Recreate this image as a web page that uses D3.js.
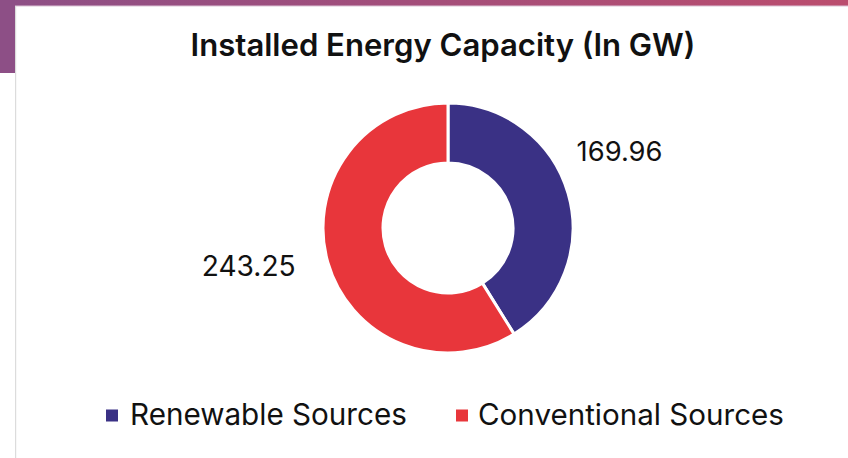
<!DOCTYPE html>
<html>
<head>
<meta charset="utf-8">
<script src="https://cdn.jsdelivr.net/npm/d3@7"></script>
<style>
  html, body { margin: 0; padding: 0; background: #fff; }
  svg { display: block; }
</style>
</head>
<body>
<svg id="chart" width="848" height="458"></svg>
<script>
// Installed capacity by source, in GW
const categories = ["Renewable Sources", "Conventional Sources"];
const capacityGW = [169.96, 243.25];
const sliceColors = ["#3a3185", "#e8363b"];
const chartTitle = "Installed Energy Capacity (In GW)";

const W = 848, H = 458;
const svg = d3.select("#chart");
const FONT = "Inter, 'Noto Sans', sans-serif";

// Page frame: gradient strip on top, purple tab on the left, card outline
const defs = svg.append("defs");
const grad = defs.append("linearGradient").attr("id", "topbar")
  .attr("x1", "0%").attr("x2", "100%");
grad.append("stop").attr("offset", "0%").attr("stop-color", "#8d4f86");
grad.append("stop").attr("offset", "100%").attr("stop-color", "#bb4d6e");

svg.append("rect").attr("x", 0).attr("y", 0).attr("width", W).attr("height", 6)
  .attr("fill", "url(#topbar)");
svg.append("rect").attr("x", 0).attr("y", 0).attr("width", 15).attr("height", 73)
  .attr("fill", "#8d4f86");
svg.append("rect").attr("x", 15).attr("y", 5.5).attr("width", W - 15).attr("height", 1)
  .attr("fill", "#dcc3d6");
svg.append("rect").attr("x", 15).attr("y", 6).attr("width", 1.2).attr("height", H - 6)
  .attr("fill", "#dcdcdc");

// Size a text element so that it spans the given width
function fitWidth(sel, target) {
  const node = sel.node();
  const fs = parseFloat(sel.attr("font-size"));
  const w = node.getComputedTextLength();
  sel.attr("font-size", fs * target / w);
}

// Title
const title = svg.append("text")
  .attr("x", 443).attr("y", 56)
  .attr("text-anchor", "middle")
  .attr("font-family", FONT).attr("font-weight", 600)
  .attr("font-size", 26).attr("fill", "#111")
  .text(chartTitle);
fitWidth(title, 505);

// Donut
const cx = 448, cy = 228, outerR = 125, innerR = 65;
const g = svg.append("g").attr("transform", `translate(${cx},${cy})`);

const color = d3.scaleOrdinal().domain(categories).range(sliceColors);
const pie = d3.pie().sort(null).value(d => d.value);
const arc = d3.arc().innerRadius(innerR).outerRadius(outerR);
const data = categories.map((c, i) => ({ name: c, value: capacityGW[i] }));
const arcs = pie(data);

g.selectAll("path.slice").data(arcs).join("path")
  .attr("class", "slice")
  .attr("d", arc)
  .attr("fill", d => color(d.data.name))
  .attr("stroke", "#fff")
  .attr("stroke-width", 3)
  .attr("stroke-linejoin", "miter");

// Value labels beside each slice
const labelLayout = [
  { angle: 59 * Math.PI / 180, r: 150, anchor: "start", dy: 10, width: 86 },
  { angle: 256 * Math.PI / 180, r: 157, anchor: "end", dy: 10, width: 94 }
];
g.selectAll("text.value").data(arcs).join("text")
  .attr("class", "value")
  .attr("x", (d, i) => labelLayout[i].r * Math.sin(labelLayout[i].angle))
  .attr("y", (d, i) => -labelLayout[i].r * Math.cos(labelLayout[i].angle) + labelLayout[i].dy)
  .attr("text-anchor", (d, i) => labelLayout[i].anchor)
  .attr("font-family", FONT).attr("font-size", 27).attr("fill", "#111")
  .text(d => d3.format(".2f")(d.data.value))
  .each(function (d, i) { fitWidth(d3.select(this), labelLayout[i].width); });

// Legend
const legendItems = [
  { x: 106, textX: 130, width: 277 },
  { x: 456, textX: 478, width: 306 }
];
const legend = svg.append("g").selectAll("g").data(categories).join("g");
legend.append("rect")
  .attr("x", (d, i) => legendItems[i].x).attr("y", 409.5)
  .attr("width", 12).attr("height", 12)
  .attr("fill", d => color(d));
legend.append("text")
  .attr("x", (d, i) => legendItems[i].textX).attr("y", 425)
  .attr("font-family", FONT).attr("font-size", 26).attr("fill", "#111")
  .text(d => d)
  .each(function (d, i) { fitWidth(d3.select(this), legendItems[i].width); });
</script>
</body>
</html>
